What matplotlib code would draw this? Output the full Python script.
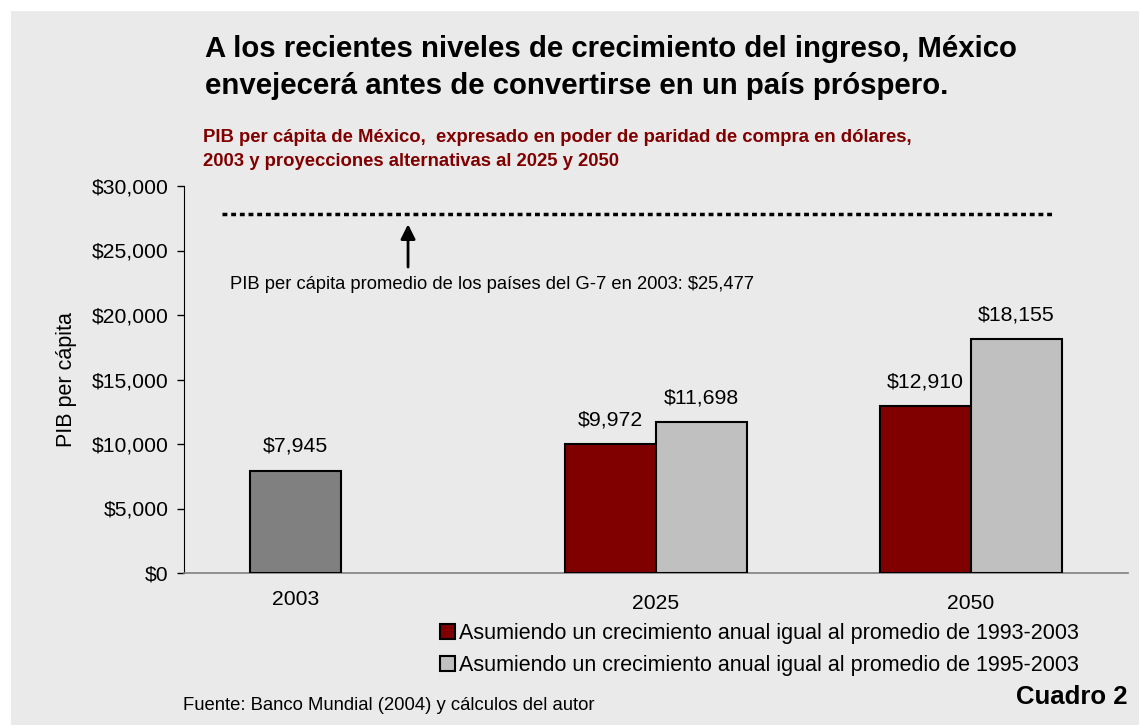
import matplotlib.pyplot as plt
from matplotlib.patches import Patch, Rectangle

plt.rcParams['font.family'] = ['Liberation Sans', 'DejaVu Sans']

# datos
anios = ['2003', '2025', '2050']
pib_2003 = 7945
serie_93_03 = [9972, 12910]   # 2025, 2050
serie_95_03 = [11698, 18155]  # 2025, 2050
g7_nivel = 27800              # posicion de la linea punteada en el grafico
g7_texto = 'PIB per cápita promedio de los países del G-7 en 2003: $25,477'
yticks = [0, 5000, 10000, 15000, 20000, 25000, 30000]
leyenda = ['Asumiendo un crecimiento anual igual al promedio de 1993-2003',
           'Asumiendo un crecimiento anual igual al promedio de 1995-2003']

rojo = '#800000'
gris_claro = '#c0c0c0'
gris_osc = '#808080'

fig = plt.figure(figsize=(11.39, 7.25), dpi=100)
fig.patch.set_facecolor('white')
fig.patches.append(Rectangle((11 / 1139, 0), 1, 1 - 11 / 725, transform=fig.transFigure,
                             facecolor='#eaeaea', edgecolor='none', zorder=-1))

ax = fig.add_axes([184 / 1139, 1 - 573 / 725, 944 / 1139, 387 / 725])
ax.set_facecolor('none')

w = 0.289
pos = [1, 2]

# barras
ax.bar(0 - w / 2, pib_2003, w, color=gris_osc, edgecolor='black', linewidth=1.5, zorder=3)
ax.bar([p - w / 2 for p in pos], serie_93_03, w, color=rojo, edgecolor='black', linewidth=1.5, zorder=3)
ax.bar([p + w / 2 for p in pos], serie_95_03, w, color=gris_claro, edgecolor='black', linewidth=1.5, zorder=3)

# etiquetas de valor
etiquetas = [(0 - w / 2, pib_2003)]
etiquetas += [(p - w / 2, v) for p, v in zip(pos, serie_93_03)]
etiquetas += [(p + w / 2, v) for p, v in zip(pos, serie_95_03)]
for x, v in etiquetas:
    ax.annotate(f'${v:,.0f}', xy=(x, v), xytext=(0, 17.3), textcoords='offset points',
                ha='center', va='center', fontsize=15.3)

# linea G-7
ax.plot([-0.379, 2.262], [g7_nivel, g7_nivel], color='black', lw=2.5,
        linestyle=(0, (1.4, 1.1)), zorder=2)
ax.annotate('', xy=(0.212, 27250), xytext=(0.212, 23500),
            arrowprops=dict(arrowstyle='-|>', lw=2, color='black', mutation_scale=22))
ax.text(-0.355, 22400, g7_texto, fontsize=13.2, ha='left', va='center')

ax.set_xlim(-0.5, 2.5)
ax.set_ylim(0, 30000)
ax.set_yticks(yticks)
ax.set_yticklabels([f'${t:,.0f}' for t in yticks])
ax.tick_params(axis='y', length=5, width=1, labelsize=15.2, pad=6, direction='out')
ax.set_xticks(pos)
ax.set_xticklabels(anios[1:])
ax.tick_params(axis='x', length=0, labelsize=15.2, pad=15)
ax.annotate(anios[0], xy=(0 - w / 2, 0), xycoords=('data', 'axes fraction'),
            xytext=(0, -19), textcoords='offset points', ha='center', va='center', fontsize=15.2)

for s in ['top', 'right']:
    ax.spines[s].set_visible(False)
ax.spines['left'].set_color('black')
ax.spines['bottom'].set_color('#808080')
ax.spines['bottom'].set_linewidth(1.2)

ax.set_ylabel('PIB per cápita', fontsize=15.5)
ax.yaxis.set_label_coords((77 - 184) / 944, 0.5)

# leyenda
handles = [Patch(facecolor=rojo, edgecolor='black', linewidth=1.5),
           Patch(facecolor=gris_claro, edgecolor='black', linewidth=1.5)]
fig.legend(handles, leyenda, loc='upper left', bbox_to_anchor=(440 / 1139, 1 - 623 / 725),
           frameon=False, fontsize=15.5, handlelength=0.7, handleheight=0.7,
           handletextpad=0.2, labelspacing=0.52, borderaxespad=0, borderpad=0)

# titulos
fig.text(205 / 1139, 1 - 57 / 725, 'A los recientes niveles de crecimiento del ingreso, México',
         fontsize=21.2, fontweight='bold', va='baseline', ha='left')
fig.text(205 / 1139, 1 - 94 / 725, 'envejecerá antes de convertirse en un país próspero.',
         fontsize=21.2, fontweight='bold', va='baseline', ha='left')
fig.text(203 / 1139, 1 - 142 / 725,
         'PIB per cápita de México,  expresado en poder de paridad de compra en dólares,',
         fontsize=13.3, fontweight='bold', color=rojo, va='baseline', ha='left')
fig.text(203 / 1139, 1 - 166 / 725,
         '2003 y proyecciones alternativas al 2025 y 2050',
         fontsize=13.3, fontweight='bold', color=rojo, va='baseline', ha='left')

fig.text(183 / 1139, 1 - 706 / 725, 'Fuente: Banco Mundial (2004) y cálculos del autor',
         fontsize=13.3, va='center', ha='left')
fig.text(1128 / 1139, 1 - 697 / 725, 'Cuadro 2', fontsize=18.5, fontweight='bold',
         va='center', ha='right')

fig.savefig('out.png', dpi=100)
